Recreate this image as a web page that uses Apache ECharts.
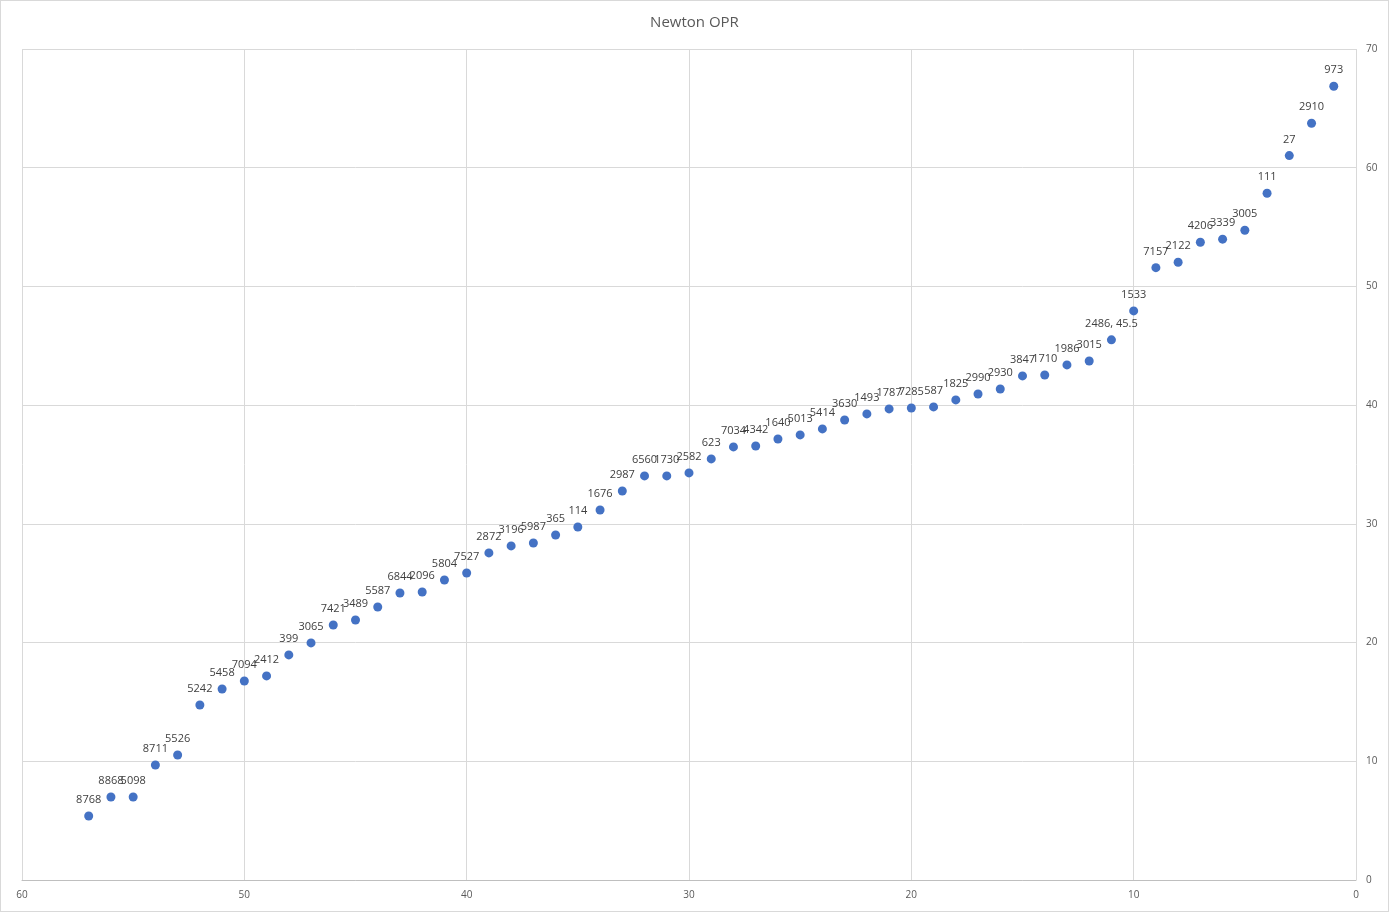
<!DOCTYPE html>
<html>
<head>
<meta charset="utf-8">
<script src="https://cdn.jsdelivr.net/npm/echarts@6/dist/echarts.min.js"></script>
<style>
html,body{margin:0;padding:0;background:#fff;}
#chart{width:1389px;height:912px;box-sizing:border-box;border:1px solid #d9d9d9;}
</style>
</head>
<body>
<div id="chart"></div>
<script>
const ranks = [1,2,3,4,5,6,7,8,9,10,11,12,13,14,15,16,17,18,19,20,21,22,23,24,25,26,27,28,29,30,31,32,33,34,35,36,37,38,39,40,41,42,43,44,45,46,47,48,49,50,51,52,53,54,55,56,57];
const opr = [66.86,63.75,61.02,57.85,54.73,53.98,53.72,52.04,51.58,47.94,45.5,43.72,43.39,42.54,42.46,41.36,40.94,40.44,39.85,39.76,39.68,39.26,38.75,38.0,37.49,37.15,36.56,36.48,35.47,34.29,34.04,34.04,32.77,31.17,29.74,29.06,28.39,28.14,27.55,25.86,25.27,24.26,24.18,23.0,21.9,21.48,19.97,18.96,17.19,16.76,16.09,14.74,10.53,9.69,6.99,6.99,5.39];
const teams = ["973","2910","27","111","3005","3339","4206","2122","7157","1533","2486, 45.5","3015","1986","1710","3847","2930","2990","1825","587","7285","1787","1493","3630","5414","5013","1640","4342","7034","623","2582","1730","6560","2987","1676","114","365","5987","3196","2872","7527","5804","2096","6844","5587","3489","7421","3065","399","2412","7094","5458","5242","5526","8711","5098","8868","8768"];
const xTicks = {min:0, max:60, interval:10};
const yTicks = {min:0, max:70, interval:10};

const chart = echarts.init(document.getElementById('chart'));
const font = 'Open Sans, Noto Sans, sans-serif';
chart.setOption({
  animation:false,
  backgroundColor:'#fff',
  title:{text:'Newton OPR', left:'center', top:9,
    textStyle:{fontFamily:font, fontSize:15, fontWeight:'normal', color:'#595959'}},
  grid:{left:21, right:32, top:48, bottom:31, containLabel:false},
  xAxis:{type:'value', inverse:true, min:xTicks.min, max:xTicks.max, interval:xTicks.interval,
    axisLine:{show:true, lineStyle:{color:'#bfbfbf', width:1}},
    axisTick:{show:false},
    axisLabel:{color:'#595959', fontSize:10, fontFamily:font, margin:10, showMinLabel:true, showMaxLabel:true},
    splitLine:{show:true, lineStyle:{color:'#d9d9d9', width:1}}},
  yAxis:{type:'value', position:'right', min:yTicks.min, max:yTicks.max, interval:yTicks.interval,
    axisLine:{show:false}, axisTick:{show:false},
    axisLabel:{color:'#595959', fontSize:10, fontFamily:font, margin:10, align:'left'},
    splitLine:{show:true, lineStyle:{color:'#d9d9d9', width:1}}},
  series:[{
    type:'scatter',
    symbolSize:9,
    itemStyle:{color:'#4472C4', opacity:1},
    data: ranks.map((r,i)=>[r, opr[i]]),
    label:{show:true, position:'top', distance:6,
      formatter:(p)=>teams[p.dataIndex],
      color:'#404040', fontSize:11, fontFamily:font}
  }]
});
</script>
</body>
</html>
